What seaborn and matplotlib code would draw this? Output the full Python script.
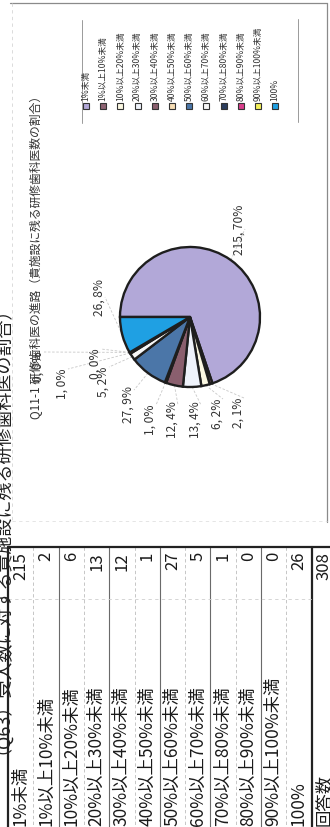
import numpy as np
import pandas as pd
import seaborn as sns
import matplotlib
matplotlib.use("Agg")
import matplotlib.pyplot as plt
from matplotlib.patches import Rectangle

# ---------------- data ----------------
categories = ['1%未満', '1%以上10%未満', '10%以上20%未満', '20%以上30%未満',
              '30%以上40%未満', '40%以上50%未満', '50%以上60%未満', '60%以上70%未満',
              '70%以上80%未満', '80%以上90%未満', '90%以上100%未満', '100%']
counts = [215, 2, 6, 13, 12, 1, 27, 5, 1, 0, 0, 26]
colors = ['#b2a8d8', '#8e6373', '#fbf8e2', '#eef2fa', '#8a5f6e', '#f6ddb4',
          '#4b76a8', '#f7f7f7', '#2b3d5e', '#d93d8b', '#f4f15a', '#1fa0e3']
title = 'Q11-1 研修歯科医の進路（貴施設に残る研修歯科医数の割合）'
header = '（Q63）受入数に対する貴施設に残る研修歯科医の割合）'
total_label = '回答数'

df = pd.DataFrame({'category': categories, 'count': counts, 'color': colors})
total = int(df['count'].sum())
df['pct'] = (df['count'] / total * 100).round().astype(int)
df['label'] = df['count'].astype(str) + ', ' + df['pct'].astype(str) + '%'

# ---------------- layout (pixels, image coordinates) ----------------
W, H = 330, 828
cx, cy, r = 190, 318, 70
# label centres for pie data labels (x, y)
label_pos = [(239, 230), (238, 413), (217, 414), (195, 420), (172, 420),
             (150, 420), (128, 405), (103, 382), (62, 384), (95, 364),
             (38, 367), (99, 298)]

sns.set_style("white")
plt.rcParams['font.family'] = ['Noto Sans CJK JP', 'DejaVu Sans']
JP = ['Noto Sans CJK JP', 'DejaVu Sans']

fig = plt.figure(figsize=(W / 100, H / 100), dpi=100)
fig.patch.set_facecolor('white')

bg = fig.add_axes([0, 0, 1, 1])
bg.set_xlim(0, W)
bg.set_ylim(H, 0)
bg.axis('off')

# ---------- chart frame ----------
bg.plot([10, 327], [4, 4], color='#8a8a8a', lw=0.9)
bg.plot([327, 327], [4, 523], color='#8a8a8a', lw=0.9)
bg.plot([12, 12], [4, 523], color='#d6d6d6', lw=0.6, ls=(0, (4, 4)))
bg.plot([12, 327], [522, 522], color='#e0e0e0', lw=0.6, ls=(0, (4, 4)))

# ---------- pie ----------
pad = 1.03
pax = fig.add_axes([(cx - r * pad) / W, 1 - (cy + r * pad) / H,
                    2 * r * pad / W, 2 * r * pad / H])
wedges, _ = pax.pie(df['count'], colors=df['color'], startangle=180,
                    counterclock=False, radius=1,
                    wedgeprops=dict(edgecolor='#1e1e1e', linewidth=1.7))
pax.set_xlim(-pad, pad)
pax.set_ylim(-pad, pad)
pax.set_aspect('equal')
pax.axis('off')

# leader lines + labels
for w, lab, (lx, ly) in zip(wedges, df['label'], label_pos):
    a = np.deg2rad((w.theta1 + w.theta2) / 2)
    ex, ey = cx + r * np.cos(a), cy - r * np.sin(a)
    if np.hypot(lx - ex, ly - ey) > 25:
        bg.plot([ex, lx + 6], [ey, ly - 14 if ly > ey else ly], color='#c8c8c8',
                lw=0.6, ls=(0, (3, 2)), zorder=1)
    bg.text(lx, ly, lab, rotation=90, rotation_mode='anchor', ha='center',
            va='center', fontsize=8.6, color='#333333', family=JP)

# title
bg.text(36, 419, title, rotation=90, rotation_mode='anchor', ha='left',
        va='center', fontsize=8.5, color='#333333', family=JP)

# ---------- legend ----------
bg.plot([82, 82], [21, 124], color='#9a9a9a', lw=0.7)
bg.plot([298, 298], [20, 123], color='#9a9a9a', lw=0.7)
for i, (cat, col) in enumerate(zip(df['category'], df['color'])):
    x = 86 + i * 17.2
    bg.add_patch(Rectangle((x - 3, 104), 6, 6, facecolor=col,
                           edgecolor='#333333', lw=0.8))
    bg.text(x, 101, cat, rotation=90, rotation_mode='anchor', ha='left',
            va='center', fontsize=6.2, color='#333333', family=JP)

# ---------- document header (partially cut) ----------
bg.text(-7, 289, header, rotation=90, rotation_mode='anchor', ha='right',
        va='center', fontsize=13, color='#222222', family=JP)

# ---------- table ----------
x0, row_h = 8, 25.3
n = len(df)
top_y = 548
for i in range(1, n + 1):
    xx = x0 + i * row_h
    if i == n:
        bg.plot([xx, xx], [top_y, H], color='#222222', lw=1.6)
    elif i % 2 == 0:
        bg.plot([xx, xx], [top_y, H], color='#6a6a6a', lw=0.8)
    else:
        bg.plot([xx, xx], [top_y, H], color='#bdbdbd', lw=0.6, ls=(0, (4, 3)))
bg.plot([x0, x0], [top_y, H], color='#222222', lw=1.6)
bg.plot([x0, W], [top_y, top_y], color='#222222', lw=1.6)
bg.plot([x0, x0 + n * row_h], [600, 600], color='#cfcfcf', lw=0.6,
        ls=(0, (4, 4)))

for i, (cat, cnt) in enumerate(zip(df['category'], df['count'])):
    xc = x0 + (i + 0.5) * row_h
    bg.text(xc, 826, cat, rotation=90, rotation_mode='anchor', ha='left',
            va='center', fontsize=12.5, color='#1a1a1a', family=JP)
    bg.text(xc, 552, str(cnt), rotation=90, rotation_mode='anchor', ha='right',
            va='center', fontsize=12, color='#1a1a1a', family=JP)

xc = x0 + (n + 0.5) * row_h
bg.text(xc, 826, total_label, rotation=90, rotation_mode='anchor', ha='left',
        va='center', fontsize=12.5, color='#1a1a1a', family=JP)
bg.text(xc, 552, str(total), rotation=90, rotation_mode='anchor', ha='right',
        va='center', fontsize=12, color='#1a1a1a', family=JP)

fig.savefig('out.png', dpi=100, facecolor='white')
